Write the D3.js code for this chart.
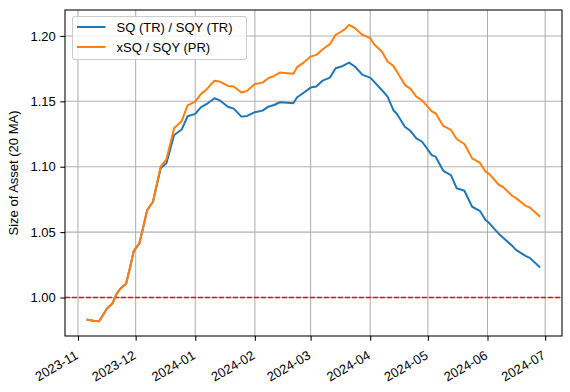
<!DOCTYPE html>
<html>
<head>
<meta charset="utf-8">
<script src="https://cdn.jsdelivr.net/npm/d3@7"></script>
<style>
  body { margin: 0; background: #fff; }
  text { font-family: "Liberation Sans", Arial, sans-serif; }
</style>
</head>
<body>
<div id="chart"></div>
<script>
// dates of the 20-day moving average
const dates = [
    "2023-11-06", "2023-11-09", "2023-11-12", "2023-11-13", "2023-11-16", "2023-11-19",
    "2023-11-21", "2023-11-23", "2023-11-26", "2023-11-28", "2023-11-30", "2023-12-03",
    "2023-12-07", "2023-12-10", "2023-12-14", "2023-12-17", "2023-12-21", "2023-12-25",
    "2023-12-28", "2024-01-01", "2024-01-04", "2024-01-07", "2024-01-11", "2024-01-14",
    "2024-01-18", "2024-01-21", "2024-01-25", "2024-01-28", "2024-02-01", "2024-02-05",
    "2024-02-08", "2024-02-11", "2024-02-14", "2024-02-18", "2024-02-21", "2024-02-23",
    "2024-02-26", "2024-03-01", "2024-03-04", "2024-03-07", "2024-03-11", "2024-03-14",
    "2024-03-17", "2024-03-19", "2024-03-21", "2024-03-24", "2024-03-28", "2024-04-01",
    "2024-04-03", "2024-04-07", "2024-04-10", "2024-04-13", "2024-04-15", "2024-04-19",
    "2024-04-22", "2024-04-25", "2024-04-28", "2024-05-03", "2024-05-05", "2024-05-09",
    "2024-05-13", "2024-05-16", "2024-05-20", "2024-05-24", "2024-05-28", "2024-05-31",
    "2024-06-02", "2024-06-07", "2024-06-09", "2024-06-14", "2024-06-16", "2024-06-21",
    "2024-06-23", "2024-06-28"
];

const sqTr = [
    0.9830, 0.9822, 0.9819, 0.9841, 0.9914, 0.9956,
    1.0025, 1.0067, 1.0106, 1.0224, 1.0355, 1.0416,
    1.0668, 1.0732, 1.0988, 1.1026, 1.1243, 1.1285,
    1.1386, 1.1404, 1.1455, 1.1480, 1.1524, 1.1505,
    1.1459, 1.1444, 1.1383, 1.1388, 1.1417, 1.1429,
    1.1459, 1.1472, 1.1493, 1.1490, 1.1485, 1.1531,
    1.1562, 1.1605, 1.1613, 1.1656, 1.1681, 1.1753,
    1.1766, 1.1781, 1.1796, 1.1766, 1.1702, 1.1681,
    1.1651, 1.1587, 1.1536, 1.1434, 1.1401, 1.1306,
    1.1273, 1.1217, 1.1191, 1.1089, 1.1077, 1.0969,
    1.0936, 1.0835, 1.0816, 1.0694, 1.0663, 1.0592,
    1.0567, 1.0485, 1.0459, 1.0393, 1.0362, 1.0316,
    1.0303, 1.0234
];

const xsq = [
    0.9830, 0.9822, 0.9819, 0.9841, 0.9914, 0.9956,
    1.0025, 1.0067, 1.0106, 1.0224, 1.0355, 1.0416,
    1.0668, 1.0732, 1.1000, 1.1057, 1.1294, 1.1350,
    1.1469, 1.1498, 1.1557, 1.1593, 1.1658, 1.1649,
    1.1618, 1.1613, 1.1567, 1.1580, 1.1633, 1.1643,
    1.1677, 1.1694, 1.1720, 1.1715, 1.1710, 1.1761,
    1.1792, 1.1842, 1.1855, 1.1894, 1.1937, 1.2008,
    1.2034, 1.2054, 1.2085, 1.2060, 1.2008, 1.1983,
    1.1937, 1.1881, 1.1804, 1.1771, 1.1725, 1.1626,
    1.1595, 1.1536, 1.1507, 1.1423, 1.1409, 1.1312,
    1.1281, 1.1212, 1.1174, 1.1064, 1.1031, 1.0962,
    1.0944, 1.0860, 1.0847, 1.0776, 1.0758, 1.0699,
    1.0689, 1.0623
];

const seriesNames = ["SQ (TR) / SQY (TR)", "xSQ / SQY (PR)"];
const seriesColors = ["#1f77b4", "#ff7f0e"];
const monthTicks = ["2023-11-01", "2023-12-01", "2024-01-01", "2024-02-01", "2024-03-01",
    "2024-04-01", "2024-05-01", "2024-06-01", "2024-07-01"];
const yTicks = [1.00, 1.05, 1.10, 1.15, 1.20];
const refLevel = 1.0;

const width = 570, height = 392;
const margin = { top: 10, right: 8, bottom: 56, left: 65 };
const innerW = width - margin.left - margin.right;
const innerH = height - margin.top - margin.bottom;

const parse = d3.timeParse("%Y-%m-%d");
const xDates = dates.map(parse);
const series = [sqTr, xsq].map((vals, i) => ({
    name: seriesNames[i],
    color: seriesColors[i],
    points: vals.map((v, j) => ({ date: xDates[j], value: v }))
}));

// matplotlib style 5% margins around the data
const xExt = d3.extent(xDates);
const xPad = (xExt[1] - xExt[0]) * 0.05;
const allVals = sqTr.concat(xsq);
const yExt = d3.extent(allVals);
const yPad = (yExt[1] - yExt[0]) * 0.05;

const x = d3.scaleTime()
    .domain([new Date(+xExt[0] - xPad), new Date(+xExt[1] + xPad)])
    .range([0, innerW]);
const y = d3.scaleLinear()
    .domain([yExt[0] - yPad, yExt[1] + yPad])
    .range([innerH, 0]);

const svg = d3.select("#chart").append("svg")
    .attr("width", width)
    .attr("height", height);

const g = svg.append("g")
    .attr("transform", `translate(${margin.left},${margin.top})`);

const tickDates = monthTicks.map(parse);

// grid
g.append("g").selectAll("line")
    .data(tickDates)
    .enter().append("line")
    .attr("x1", d => x(d)).attr("x2", d => x(d))
    .attr("y1", 0).attr("y2", innerH)
    .attr("stroke", "#b0b0b0")
    .attr("stroke-width", 1.05);

g.append("g").selectAll("line")
    .data(yTicks)
    .enter().append("line")
    .attr("x1", 0).attr("x2", innerW)
    .attr("y1", d => y(d)).attr("y2", d => y(d))
    .attr("stroke", "#b0b0b0")
    .attr("stroke-width", 1.05);

// reference line at 1.0
g.append("line")
    .attr("x1", 0).attr("x2", innerW)
    .attr("y1", y(refLevel)).attr("y2", y(refLevel))
    .attr("stroke", "#ff0000")
    .attr("stroke-width", 1.4)
    .attr("stroke-dasharray", "4.9,2.1");

const line = d3.line()
    .x(d => x(d.date))
    .y(d => y(d.value));

g.append("g").selectAll("path")
    .data(series)
    .enter().append("path")
    .attr("d", d => line(d.points))
    .attr("fill", "none")
    .attr("stroke", d => d.color)
    .attr("stroke-width", 2)
    .attr("stroke-linejoin", "round")
    .attr("stroke-linecap", "square");

// axes
const xAxis = g.append("g")
    .attr("transform", `translate(0,${innerH})`)
    .call(d3.axisBottom(x)
        .tickValues(tickDates)
        .tickFormat(d3.timeFormat("%Y-%m"))
        .tickSizeOuter(0)
        .tickSize(4.7)
        .tickPadding(3));

xAxis.selectAll("text")
    .attr("font-size", 13)
    .attr("fill", "#000")
    .attr("text-anchor", "end")
    .attr("x", 0)
    .attr("y", 0)
    .attr("dy", 0)
    .attr("transform", "translate(0.5,22) rotate(-30)");

const yAxis = g.append("g")
    .call(d3.axisLeft(y)
        .tickValues(yTicks)
        .tickFormat(d3.format(".2f"))
        .tickSizeOuter(0)
        .tickSize(4.7)
        .tickPadding(4.5));

yAxis.selectAll("text")
    .attr("font-size", 13)
    .attr("fill", "#000");

[xAxis, yAxis].forEach(a => {
    a.select(".domain").remove();
    a.selectAll(".tick line").attr("stroke", "#000").attr("stroke-width", 1.05);
});

// frame
g.append("rect")
    .attr("x", 0).attr("y", 0)
    .attr("width", innerW).attr("height", innerH)
    .attr("fill", "none")
    .attr("stroke", "#000")
    .attr("stroke-width", 1.05);

svg.append("text")
    .attr("transform", `translate(18,${margin.top + innerH / 2}) rotate(-90)`)
    .attr("text-anchor", "middle")
    .attr("font-size", 13)
    .text("Size of Asset (20 MA)");

// legend
const legend = g.append("g").attr("transform", "translate(7.5,6.5)");
legend.append("rect")
    .attr("width", 174).attr("height", 43)
    .attr("rx", 2.5)
    .attr("fill", "#fff")
    .attr("fill-opacity", 0.8)
    .attr("stroke", "#cccccc")
    .attr("stroke-width", 1.05);

const items = legend.selectAll("g.item")
    .data(series)
    .enter().append("g")
    .attr("class", "item")
    .attr("transform", (d, i) => `translate(0,${10.5 + i * 20})`);

items.append("line")
    .attr("x1", 4.5).attr("x2", 33)
    .attr("stroke", d => d.color)
    .attr("stroke-width", 2);

items.append("text")
    .attr("x", 44)
    .attr("dy", "0.35em")
    .attr("font-size", 13)
    .text(d => d.name);
</script>
</body>
</html>
